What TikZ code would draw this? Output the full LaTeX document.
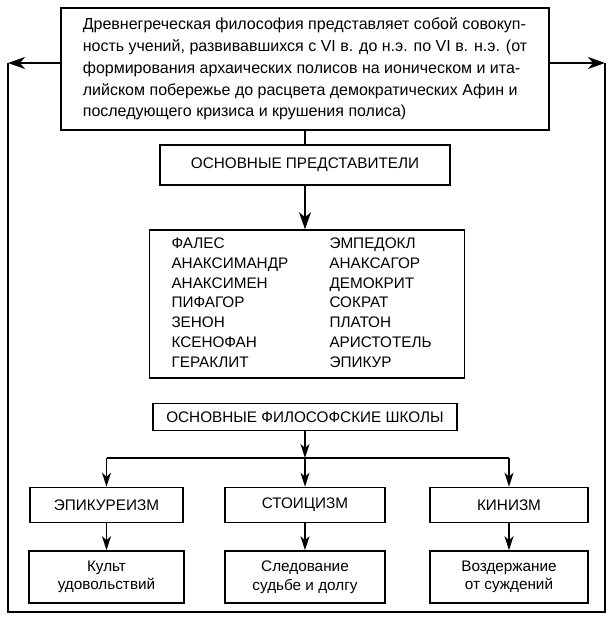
\documentclass[tikz,border=0pt]{standalone}
\usepackage{fontspec}
\setmainfont{Liberation Sans}
\usetikzlibrary{arrows.meta}
\begin{document}
\begin{tikzpicture}[x=1pt,y=-1pt,
  box/.style={draw, line width=1.6pt, inner sep=0pt, align=center,
    font=\fontsize{15.3}{18.5}\selectfont},
  ln/.style={line width=1.6pt},
  bigarr/.style={ln, -{Stealth[length=17pt,width=12pt,inset=5pt]}},
  arr/.style={ln, -{Stealth[length=14pt,width=9pt,inset=4pt]}},
]
\useasboundingbox (0,0) rectangle (614,620);

% top description
\node[box, minimum width=488pt, minimum height=122pt, align=left,
      font=\fontsize{16}{21.8}\selectfont] (top) at (305,69)
 {Древнегреческая философия представляет собой совокуп-\\
  ность учений, развивавшихся с VI в. до н.э. по VI в. н.э. (от\\
  формирования архаических полисов на ионическом и ита-\\
  лийском побережье до расцвета демократических Афин и\\
  последующего кризиса и крушения полиса)};

\node[box, minimum width=290pt, minimum height=40pt] (rep) at (305,165)
 {ОСНОВНЫЕ ПРЕДСТАВИТЕЛИ};

\node[box, minimum width=315pt, minimum height=148pt] (list) at (307,304)
 {\fontsize{15.3}{19.7}\selectfont
  \begin{tabular}{@{}p{158pt}@{}p{113pt}@{}}
  ФАЛЕС & ЭМПЕДОКЛ\\
  АНАКСИМАНДР & АНАКСАГОР\\
  АНАКСИМЕН & ДЕМОКРИТ\\
  ПИФАГОР & СОКРАТ\\
  ЗЕНОН & ПЛАТОН\\
  КСЕНОФАН & АРИСТОТЕЛЬ\\
  ГЕРАКЛИТ & ЭПИКУР
  \end{tabular}};

\node[box, minimum width=304pt, minimum height=27pt] (schools) at (305,417)
 {ОСНОВНЫЕ ФИЛОСОФСКИЕ ШКОЛЫ};

\node[box, minimum width=153pt, minimum height=35pt] (epi) at (106.5,505) {ЭПИКУРЕИЗМ};
\node[box, minimum width=160pt, minimum height=35pt] (sto) at (305,505) {СТОИЦИЗМ};
\node[box, minimum width=158pt, minimum height=35pt] (kin) at (509,505) {КИНИЗМ};

\node[box, minimum width=155pt, minimum height=52pt] (cult) at (106.5,577) {Культ\\удовольствий};
\node[box, minimum width=160pt, minimum height=52pt] (sled) at (305,577) {Следование\\судьбе и долгу};
\node[box, minimum width=158pt, minimum height=52pt] (voz) at (509,577) {Воздержание\\от суждений};

% outer frame with arrows
\coordinate (Lc) at (8,63);
\coordinate (Rc) at (605,63);
\coordinate (Lb) at (8,612);
\coordinate (Rb) at (605,612);
\draw[bigarr] (top.west |- Lc) -- (Lc);
\draw[bigarr] (top.east |- Rc) -- (Rc);
\draw[ln] (Lc) -- (Lb) -- (Rb) -- (Rc);

% central column
\draw[ln] (top.south) -- (rep.north);
\draw[bigarr] (rep.south) -- (rep.south |- list.north);

% schools
\coordinate (J) at (305,458);
\coordinate (Jl) at (epi.north |- J);
\coordinate (Jr) at (kin.north |- J);
\draw[arr] (schools.south) -- (J);
\draw[ln] (Jl) -- (Jr);
\draw[arr] (J) -- (sto.north);
\draw[arr] (Jl) -- (epi.north);
\draw[arr] (Jr) -- (kin.north);
\draw[arr] (epi.south) -- (cult.north);
\draw[arr] (sto.south) -- (sled.north);
\draw[arr] (kin.south) -- (voz.north);
\end{tikzpicture}
\end{document}
